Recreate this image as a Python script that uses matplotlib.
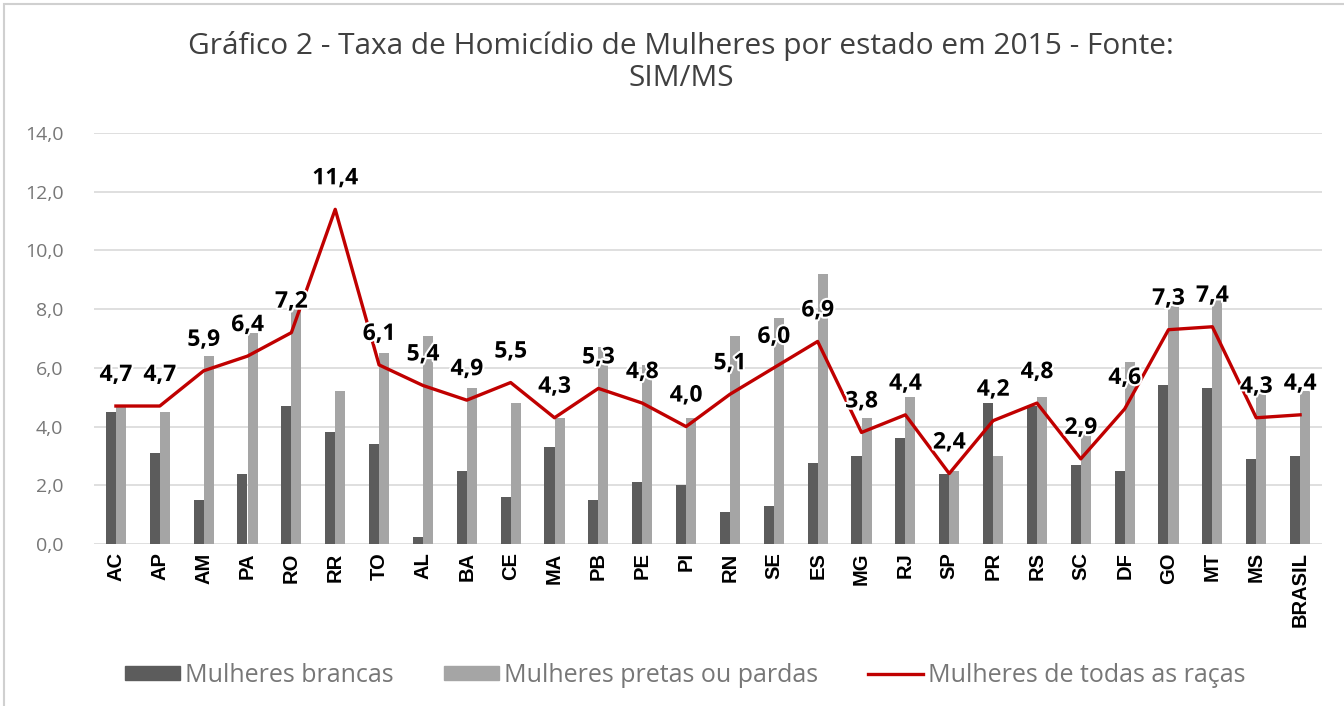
import numpy as np
import matplotlib
matplotlib.use("Agg")
import matplotlib.pyplot as plt
import matplotlib.patheffects as pe
from matplotlib.patches import Patch, Rectangle
from matplotlib.lines import Line2D

estados = ["AC", "AP", "AM", "PA", "RO", "RR", "TO", "AL", "BA", "CE", "MA", "PB",
           "PE", "PI", "RN", "SE", "ES", "MG", "RJ", "SP", "PR", "RS", "SC", "DF",
           "GO", "MT", "MS", "BRASIL"]
brancas = [4.5, 3.1, 1.5, 2.4, 4.7, 3.8, 3.4, 0.25, 2.5, 1.6, 3.3, 1.5,
           2.1, 2.0, 1.1, 1.3, 2.75, 3.0, 3.6, 2.4, 4.8, 4.7, 2.7, 2.5,
           5.4, 5.3, 2.9, 3.0]
pretas = [4.7, 4.5, 6.4, 7.2, 8.1, 5.2, 6.5, 7.1, 5.3, 4.8, 4.3, 6.7,
          6.1, 4.3, 7.1, 7.7, 9.2, 4.3, 5.0, 2.5, 3.0, 5.0, 3.9, 6.2,
          8.2, 8.3, 5.2, 5.2]
todas = [4.7, 4.7, 5.9, 6.4, 7.2, 11.4, 6.1, 5.4, 4.9, 5.5, 4.3, 5.3,
         4.8, 4.0, 5.1, 6.0, 6.9, 3.8, 4.4, 2.4, 4.2, 4.8, 2.9, 4.6,
         7.3, 7.4, 4.3, 4.4]

cor_escura = "#5c5c5c"
cor_clara = "#a5a5a5"
cor_linha = "#c00000"

fig = plt.figure(figsize=(13.44, 7.06), dpi=100)
ax = fig.add_axes([94 / 1344, 1 - 544 / 706, 1228 / 1344, 411 / 706])

x = np.arange(len(estados))
w = 0.23
ax.bar(x - w / 2, brancas, width=w, color=cor_escura, zorder=2)
ax.bar(x + w / 2, pretas, width=w, color=cor_clara, zorder=2)
ax.plot(x, todas, color=cor_linha, linewidth=2.4, zorder=3)

for xi, v in zip(x, todas):
    ax.annotate(f"{v:.1f}".replace(".", ","), (xi, v), xytext=(0, 31),
                textcoords="offset pixels", ha="center", va="center",
                fontsize=16.5, fontweight="bold", family="Open Sans", color="black",
                zorder=5,
                path_effects=[pe.withStroke(linewidth=3, foreground="white")])

ax.set_xlim(-0.5, len(estados) - 0.5)
ax.set_ylim(0, 14)
ax.set_yticks(np.arange(0, 15, 2))
ax.set_yticklabels([f"{t:.1f}".replace(".", ",") for t in np.arange(0, 15, 2)],
                   fontsize=14, color="#777777", family="Open Sans")
ax.set_xticks(x)
ax.set_xticklabels(estados, rotation=90, fontsize=14.5, fontweight="bold",
                   family="Liberation Sans", color="black")
ax.tick_params(axis="y", length=0, pad=22)
ax.tick_params(axis="x", length=0, pad=6)
ax.grid(axis="y", color="#d9d9d9", linewidth=1.2, zorder=0)
for s in ax.spines.values():
    s.set_visible(False)

fig.text(681 / 1344, 1 - 62 / 706,
         "Gráfico 2 - Taxa de Homicídio de Mulheres por estado em 2015 - Fonte:\nSIM/MS",
         ha="center", va="center", fontsize=21.5, color="#404040",
         family="Open Sans", linespacing=1.1)

handles = [Patch(color=cor_escura), Patch(color=cor_clara),
           Line2D([], [], color=cor_linha, linewidth=2.4)]
nomes = ["Mulheres brancas", "Mulheres pretas ou pardas", "Mulheres de todas as raças"]
leg = fig.legend(handles, nomes, loc="center", bbox_to_anchor=(685 / 1344, 1 - 675 / 706),
                 ncol=3, frameon=False, handlelength=2.2, handleheight=0.5,
                 handletextpad=0.2, columnspacing=2.0,
                 prop={"family": "Open Sans", "size": 18})
for t in leg.get_texts():
    t.set_color("#777777")

fig.patches.append(Rectangle((4 / 1344, -0.1), 1.2, 1 - 4 / 706 + 0.1, transform=fig.transFigure,
                             fill=False, edgecolor="#d0d0d0", linewidth=1.5))

fig.savefig("out.png", dpi=100)
